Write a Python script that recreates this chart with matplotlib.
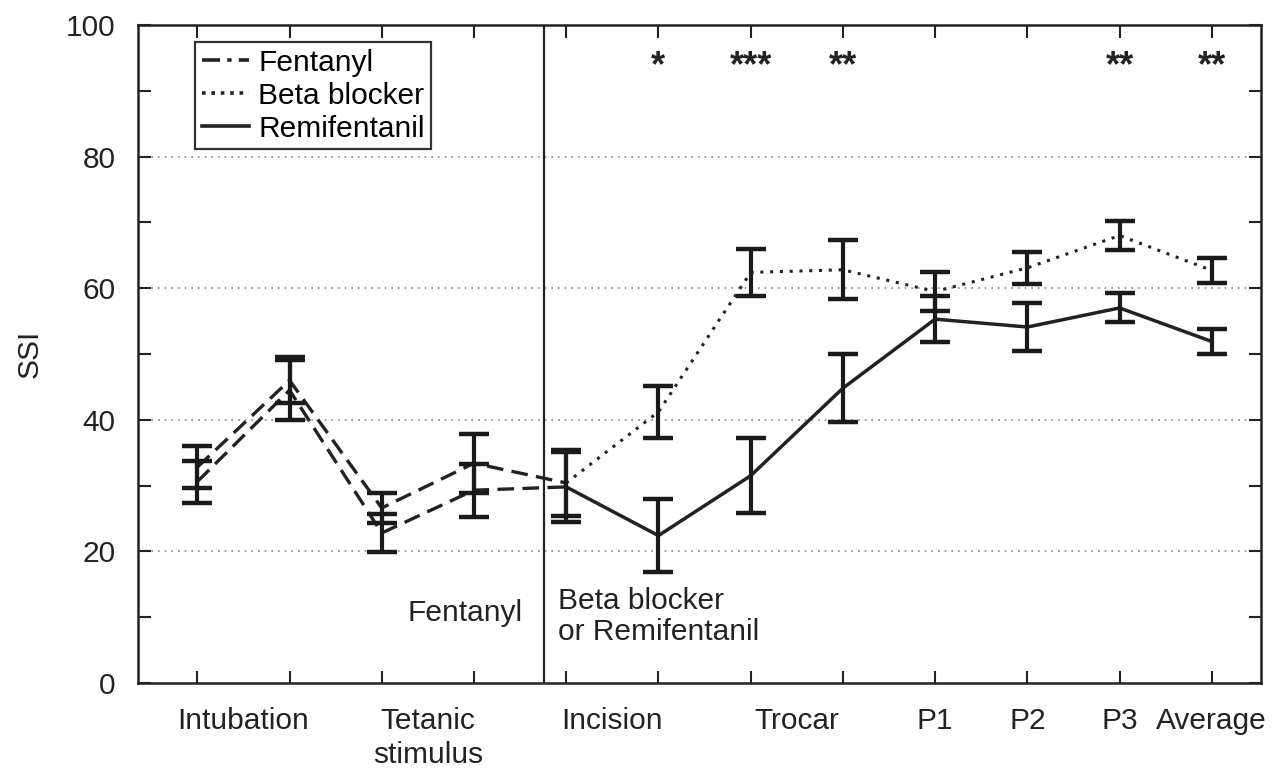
import numpy as np
import matplotlib.pyplot as plt
from matplotlib.ticker import FixedLocator, NullFormatter

plt.rcParams["font.family"] = ["Liberation Sans", "DejaVu Sans"]

# measurement points (1..12); first four are under fentanyl only
points = np.arange(1, 13)
switch_x = 4.76

beta_ssi = [32.8, 46.0, 26.6, 33.4, 30.4, 41.2, 62.4, 62.8, 59.5, 63.1, 68.0, 62.7]
beta_err = [3.2, 3.5, 2.3, 4.5, 5.0, 4.0, 3.6, 4.5, 3.0, 2.4, 2.2, 1.9]
remi_ssi = [30.6, 44.5, 22.8, 29.3, 29.8, 22.4, 31.5, 44.8, 55.3, 54.1, 57.0, 51.9]
remi_err = [3.2, 4.6, 2.9, 4.0, 5.3, 5.5, 5.7, 5.2, 3.5, 3.6, 2.2, 1.9]

label_pos = [1.5, 3.5, 5.5, 7.5, 9, 10, 11, 12]
label_txt = ["Intubation", "Tetanic\nstimulus", "Incision", "Trocar",
             "P1", "P2", "P3", "Average"]

sig_pos = [6, 7, 8, 11, 12]
sig_marks = ["*", "***", "**", "**", "**"]

ink = "#222222"
fs = 21.5

fig = plt.figure(figsize=(12.76, 7.72), dpi=100)
ax = fig.add_axes([0.108, 0.1153, 0.880, 0.8523])

dash = (0, (5, 2.5))
x = points

# fentanyl phase (both groups dashed)
ax.plot(x[:5], beta_ssi[:5], color=ink, lw=2.4, linestyle=dash, zorder=3)
ax.plot(x[:5], remi_ssi[:5], color=ink, lw=2.4, linestyle=dash, zorder=3)

# drug phase
ax.plot(x[4:], beta_ssi[4:], color=ink, lw=2.2, linestyle=(0, (1, 2.2)), zorder=3)
ax.plot(x[4:], remi_ssi[4:], color=ink, lw=2.5, linestyle="-", zorder=3)

for ys, es in [(beta_ssi, beta_err), (remi_ssi, remi_err)]:
    ax.errorbar(x, ys, yerr=es, fmt="none", ecolor="#1a1a1a",
                elinewidth=3.0, capsize=11, capthick=3.2, zorder=4)

# legend handles
ax.plot([], [], color=ink, lw=2.6, linestyle=(0, (5, 2, 1.2, 2)), label="Fentanyl")
ax.plot([], [], color=ink, lw=2.6, linestyle=(0, (1, 1.6)), label="Beta blocker")
ax.plot([], [], color=ink, lw=2.6, linestyle="-", label="Remifentanil")
handles, labels = ax.get_legend_handles_labels()
leg = ax.legend(handles[-3:], labels[-3:], loc="upper left",
                bbox_to_anchor=(0.051, 0.974), borderaxespad=0, frameon=True,
                fancybox=False, fontsize=fs, handlelength=1.6, handletextpad=0.3,
                labelspacing=0.17, borderpad=0.22)
leg.get_frame().set_edgecolor("black")
leg.get_frame().set_linewidth(1.6)

ax.axvline(switch_x, color=ink, lw=1.6, zorder=2)

ax.text(4.53, 10.7, "Fentanyl", ha="right", va="center", fontsize=fs, color=ink)
ax.text(4.91, 10.1, "Beta blocker\nor Remifentanil", ha="left", va="center",
        fontsize=fs, color=ink, linespacing=1.12)

for p, m in zip(sig_pos, sig_marks):
    ax.text(p, 93.6, m, ha="center", va="center", fontsize=26,
            fontweight="bold", color=ink)

ax.set_xlim(0.355, 12.53)
ax.set_ylim(0, 100)

for gy in [20, 40, 60, 80]:
    ax.axhline(gy, color="#8a8a8a", lw=1.2, linestyle=(0, (1, 3)), zorder=1)

ax.set_yticks(np.arange(0, 101, 20))
ax.set_yticks(np.arange(0, 101, 10), minor=True)
ax.tick_params(axis="y", which="both", direction="in", left=True, right=True,
               length=9, width=1.5, labelsize=fs, colors=ink, pad=16)

ax.xaxis.set_major_locator(FixedLocator(label_pos))
ax.set_xticklabels(label_txt)
ax.xaxis.set_minor_locator(FixedLocator(points))
ax.xaxis.remove_overlapping_locs = False
ax.xaxis.set_minor_formatter(NullFormatter())
ax.tick_params(axis="x", which="major", length=0, labelsize=fs, pad=17,
               colors=ink)
ax.tick_params(axis="x", which="minor", direction="in", top=True, bottom=True,
               length=9, width=1.5, colors=ink)
for t in ax.get_xticklabels():
    t.set_linespacing(1.3)
    t.set_verticalalignment("top")

ax.set_ylabel("SSI", fontsize=fs, color=ink, labelpad=16)

for s in ax.spines.values():
    s.set_linewidth(1.8)
    s.set_color(ink)

fig.savefig("out.png", dpi=100)
